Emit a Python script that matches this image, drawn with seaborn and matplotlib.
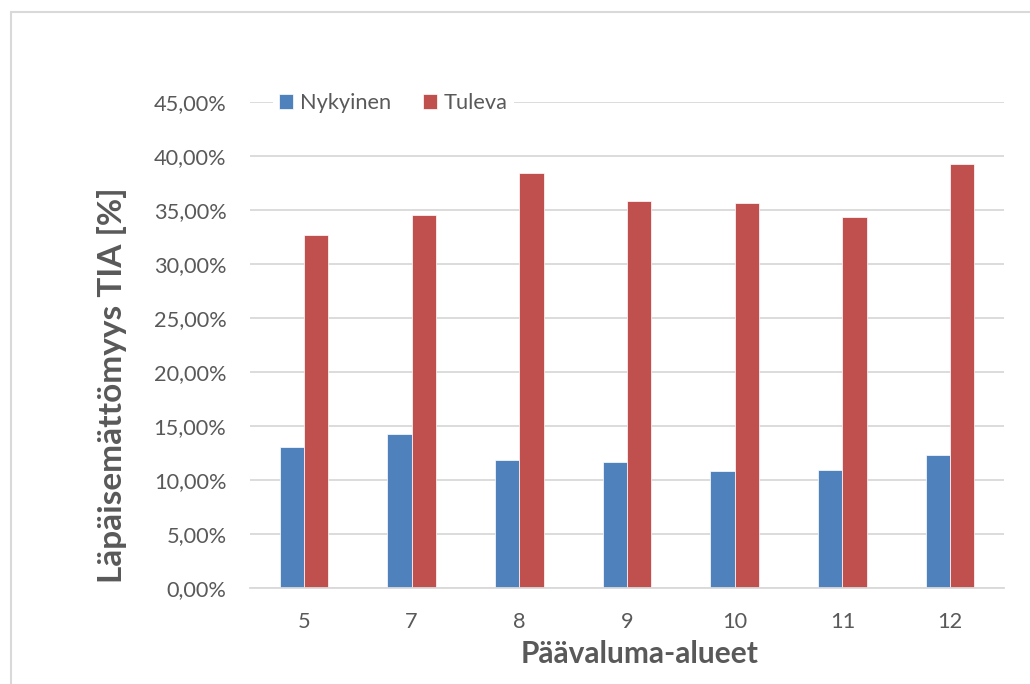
import matplotlib
matplotlib.use("Agg")
import matplotlib.pyplot as plt
from matplotlib.lines import Line2D
from matplotlib.ticker import FuncFormatter, MultipleLocator
import pandas as pd
import seaborn as sns

# Drainage areas and impervious share (TIA) for current and future land use
areas = ["5", "7", "8", "9", "10", "11", "12"]
nykyinen = [0.1306, 0.1430, 0.1183, 0.1165, 0.1081, 0.1090, 0.1232]
tuleva = [0.3272, 0.3454, 0.3838, 0.3586, 0.3567, 0.3438, 0.3925]
series_names = ["Nykyinen", "Tuleva"]
colors = ["#4F81BD", "#C0504D"]

df = pd.DataFrame({
    "alue": areas * 2,
    "tia": nykyinen + tuleva,
    "sarja": [series_names[0]] * len(areas) + [series_names[1]] * len(areas),
})

sns.set_theme(style="white")
plt.rcParams["font.family"] = ["Lato", "DejaVu Sans"]

W, H = 1030, 684
fig = plt.figure(figsize=(W / 100, H / 100), dpi=100)
ax = fig.add_axes([250 / W, 1 - 588 / H, (1004 - 250) / W, (588 - 102) / H])

sns.barplot(data=df, x="alue", y="tia", hue="sarja", order=areas,
            hue_order=series_names, palette=colors, width=0.45,
            edgecolor="white", linewidth=0.5, saturation=1, ax=ax)

text_gray = "#595959"
grid_gray = "#d9d9d9"

ax.set_ylim(0, 0.45)
ax.yaxis.set_major_locator(MultipleLocator(0.05))
ax.yaxis.set_major_formatter(FuncFormatter(lambda v, _: f"{v * 100:.2f}%".replace(".", ",")))
ax.grid(axis="y", color=grid_gray, linewidth=1.3)
ax.set_axisbelow(True)
for side in ["left", "right", "top"]:
    ax.spines[side].set_visible(False)
ax.spines["bottom"].set_color(grid_gray)
ax.spines["bottom"].set_linewidth(1.3)
ax.tick_params(axis="y", length=0, pad=17, labelsize=15.7, labelcolor=text_gray)
ax.tick_params(axis="x", length=0, pad=17, labelsize=15.7, labelcolor=text_gray)
ax.set_xlabel("")
ax.set_ylabel("")

leg = ax.legend(loc="center left", bbox_to_anchor=(0.030, 0.998), ncol=2, frameon=True,
                fontsize=15.7, handlelength=0.64, handleheight=0.64, handletextpad=0.3,
                columnspacing=1.5, borderpad=0.3, borderaxespad=0.0)
leg.get_frame().set_facecolor("white")
leg.get_frame().set_edgecolor("none")
leg.get_frame().set_alpha(1)
for t in leg.get_texts():
    t.set_color(text_gray)

fig.text(640 / W, 1 - 654 / H, "Päävaluma-alueet", ha="center", va="center",
         fontsize=21.5, fontweight="bold", color=text_gray)
fig.text(112 / W, 1 - 385 / H, "Läpäisemättömyys TIA [%]", ha="center", va="center",
         rotation=90, fontsize=24, fontweight="bold", color=text_gray)

# Light frame around the chart area
fig.add_artist(Line2D([10.5 / W, 1.0], [1 - 11.5 / H, 1 - 11.5 / H],
                      transform=fig.transFigure, color=grid_gray, linewidth=1.5))
fig.add_artist(Line2D([10.5 / W, 10.5 / W], [0.0, 1 - 11.5 / H],
                      transform=fig.transFigure, color=grid_gray, linewidth=1.5))

fig.savefig("out.png", dpi=100, facecolor="white")
